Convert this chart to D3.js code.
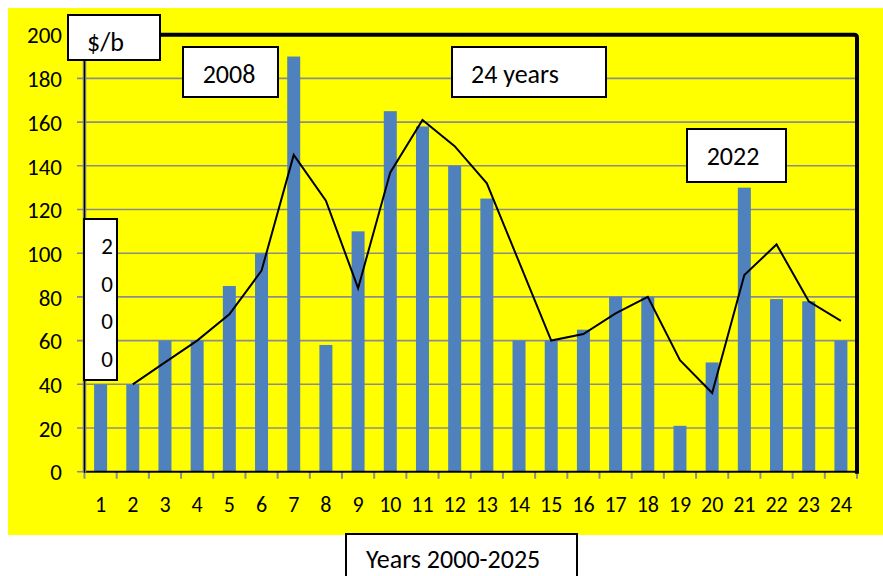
<!DOCTYPE html>
<html>
<head>
<meta charset="utf-8">
<script src="https://cdn.jsdelivr.net/npm/d3@7"></script>
<style>
  html, body { margin: 0; padding: 0; background: #ffffff; }
  svg { display: block; }
  text { font-family: Calibri, Carlito, Lato, sans-serif; fill: #000; }
</style>
</head>
<body>
<svg id="chart" width="883" height="576"></svg>
<script>
// Years since 2000 (category labels along the bottom)
const yearLabels = ["1","2","3","4","5","6","7","8","9","10","11","12",
                    "13","14","15","16","17","18","19","20","21","22","23","24"];
// Price per barrel, $/b
const priceValues = [40, 40, 60, 60, 85, 100, 190, 58, 110, 165, 158, 140,
                     125, 60, 60, 65, 80, 80, 21, 50, 130, 79, 78, 60];
// Smoothed trend line (starts in year 2)
const trendValues = [null, 40, 50, 60, 72, 92, 145, 124, 84, 137, 161, 149,
                     132, 96, 60, 63, 72.5, 80, 51, 36, 90, 104, 78, 69];
const yTicks = [0, 20, 40, 60, 80, 100, 120, 140, 160, 180, 200];

const FONT = "Calibri, Carlito, Lato, sans-serif";
const svg = d3.select("#chart");

// yellow chart background
svg.append("rect").attr("x", 8).attr("y", 8).attr("width", 875).attr("height", 527)
  .attr("fill", "#ffff00");

const plot = { left: 84.5, right: 857, top: 34.7, bottom: 471.7 };

const x = d3.scaleBand().domain(yearLabels).range([plot.left, plot.right]).paddingInner(0).paddingOuter(0);
const y = d3.scaleLinear().domain([0, 200]).range([plot.bottom, plot.top]);

// horizontal gridlines (with small tick stubs left of the axis)
svg.append("g").selectAll("line").data(yTicks.filter(d => d > 0 && d < 200)).join("line")
  .attr("x1", 77).attr("x2", plot.right)
  .attr("y1", d => y(d)).attr("y2", d => y(d))
  .attr("stroke", "#8c8c8c").attr("stroke-width", 1.6);

// y-axis labels
const yAxis = d3.axisLeft(y).tickValues(yTicks).tickSize(0).tickPadding(0);
const gy = svg.append("g").attr("transform", `translate(62,0)`).call(yAxis);
gy.select(".domain").remove();
gy.selectAll("text").attr("font-size", 23).attr("dy", "0.36em")
  .style("font-family", FONT).attr("fill", "#000");

// bars
const barW = 13;
svg.append("g").selectAll("rect").data(priceValues).join("rect")
  .attr("x", (d, i) => x(yearLabels[i]) + x.bandwidth() / 2 - barW / 2)
  .attr("y", d => y(d))
  .attr("width", barW)
  .attr("height", d => y(0) - y(d))
  .attr("fill", "#4f81bd");

// trend line
const line = d3.line()
  .defined(d => d != null)
  .x((d, i) => x(yearLabels[i]) + x.bandwidth() / 2)
  .y(d => y(d));
svg.append("path").datum(trendValues)
  .attr("d", line)
  .attr("fill", "none").attr("stroke", "#000").attr("stroke-width", 2)
  .attr("stroke-linejoin", "miter");

// x axis: baseline, tick marks at band edges, labels
const xEdges = yearLabels.map(d => x(d)).concat([plot.right]);
svg.append("g").selectAll("line").data(xEdges).join("line")
  .attr("x1", d => d).attr("x2", d => d)
  .attr("y1", plot.bottom).attr("y2", plot.bottom + 7)
  .attr("stroke", "#8c8c8c").attr("stroke-width", 2);
svg.append("line").attr("x1", plot.left).attr("x2", plot.right)
  .attr("y1", plot.bottom).attr("y2", plot.bottom)
  .attr("stroke", "#000").attr("stroke-width", 2);
svg.append("line").attr("x1", 77).attr("x2", plot.left)
  .attr("y1", plot.bottom).attr("y2", plot.bottom)
  .attr("stroke", "#8c8c8c").attr("stroke-width", 1.6);

const xAxis = d3.axisBottom(x).tickSize(0).tickPadding(0);
const gx = svg.append("g").attr("transform", `translate(0,${plot.bottom + 40})`).call(xAxis);
gx.select(".domain").remove();
gx.selectAll("text").attr("font-size", 22).attr("dy", 0)
  .style("font-family", FONT).attr("fill", "#000");

// left axis line
svg.append("line").attr("x1", plot.left).attr("x2", plot.left)
  .attr("y1", 60).attr("y2", plot.bottom + 1)
  .attr("stroke", "#7f7f7f").attr("stroke-width", 3.5);
svg.append("line").attr("x1", plot.left).attr("x2", plot.left)
  .attr("y1", 60).attr("y2", plot.bottom + 1)
  .attr("stroke", "#000").attr("stroke-width", 1.2);

// heavy frame along top and right
svg.append("path")
  .attr("d", `M160,${plot.top} H${plot.right - 3} Q${plot.right},${plot.top} ${plot.right},${plot.top + 3} V${plot.bottom + 2}`)
  .attr("fill", "none").attr("stroke", "#000").attr("stroke-width", 4);

// annotation boxes
function box(x0, y0, w, h) {
  svg.append("rect").attr("x", x0).attr("y", y0).attr("width", w).attr("height", h)
    .attr("fill", "#fff").attr("stroke", "#000").attr("stroke-width", 2);
}
function label(str, tx, ty, size, anchor) {
  svg.append("text").attr("x", tx).attr("y", ty).attr("font-size", size)
    .attr("text-anchor", anchor || "start").style("font-family", FONT).text(str);
}

box(68, 15, 92, 45);
label("$/b", 87, 51, 26);

box(183, 47, 95, 50);
label("2008", 229, 83, 26, "middle");

box(452, 47, 154, 50);
label("24 years", 471, 83, 26);

box(687, 129, 99, 53);
label("2022", 733, 165, 26, "middle");

box(84, 219, 33, 161);
["2", "0", "0", "0"].forEach((c, i) => label(c, 107, 254 + i * 37.6, 23, "middle"));

box(346, 534, 231, 50);
label("Years 2000-2025", 366, 568, 26);
</script>
</body>
</html>
